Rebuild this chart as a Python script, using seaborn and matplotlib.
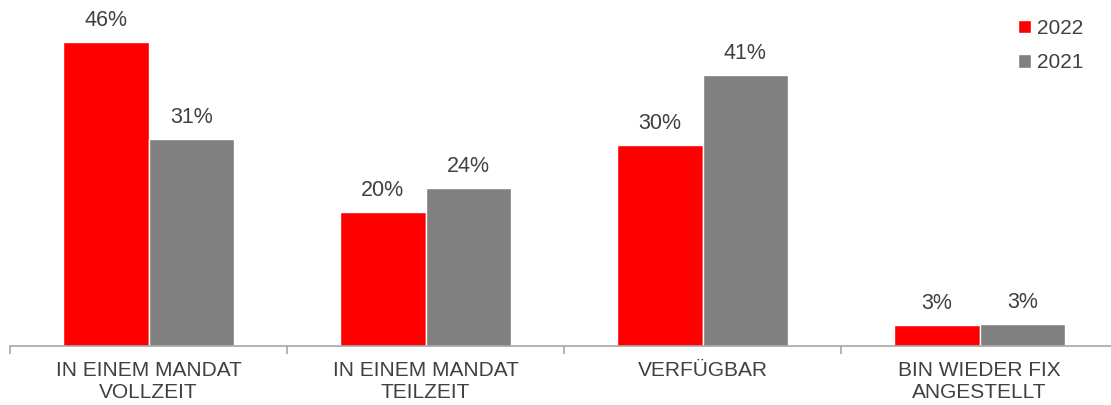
import matplotlib.pyplot as plt
import seaborn as sns
import pandas as pd
import numpy as np

# categories and values
categories = ['IN EINEM MANDAT\nVOLLZEIT', 'IN EINEM MANDAT\nTEILZEIT', 'VERFÜGBAR', 'BIN WIEDER FIX\nANGESTELLT']
years = ['2022', '2021']
values_2022 = [46.0, 20.3, 30.4, 3.2]
values_2021 = [31.3, 23.9, 41.0, 3.3]
colors = {'2022': '#FF0000', '2021': '#808080'}

df = pd.DataFrame({
	'cat': categories * 2,
	'year': ['2022'] * 4 + ['2021'] * 4,
	'val': values_2022 + values_2021,
})

sns.set_style("white")
plt.rcParams['font.family'] = ['Liberation Sans', 'DejaVu Sans']
txt = '#404040'

fig = plt.figure(figsize=(11.11, 4.05), dpi=100)
# axes runs a little past the right edge, like the original
ax = fig.add_axes([10/1111, 59/405, 1108/1111, 346/405])
sns.barplot(data=df, x='cat', y='val', hue='year', hue_order=years, palette=colors,
			width=0.62, edgecolor='white', linewidth=1, saturation=1, ax=ax)

for cont in ax.containers:
	ax.bar_label(cont, labels=['%.0f%%' % v for v in cont.datavalues], padding=8,
				 fontsize=15.5, color=txt)

ax.set_ylim(0, 52.4)
ax.set_xlim(-0.5, 3.5)
ax.set_yticks([])
ax.set_xlabel('')
ax.set_ylabel('')
for s in ['top', 'right', 'left']:
	ax.spines[s].set_visible(False)
ax.spines['bottom'].set_color('#A6A6A6')
ax.spines['bottom'].set_linewidth(1.2)
ax.tick_params(axis='x', which='major', length=0, pad=11, labelsize=15, labelcolor=txt)
ax.set_xticks(np.arange(-0.5, 4, 1), minor=True)
ax.tick_params(axis='x', which='minor', bottom=True, length=6, width=1.2,
			   color='#A6A6A6', direction='out')

leg = ax.legend(loc='upper right', bbox_to_anchor=(1102/1111, 1.0),
				bbox_transform=fig.transFigure, frameon=False, fontsize=15,
				handlelength=0.6, handleheight=0.6, handletextpad=0.3, labelspacing=0.75,
				labelcolor=txt, title=None)

fig.savefig('out.png', dpi=100)
